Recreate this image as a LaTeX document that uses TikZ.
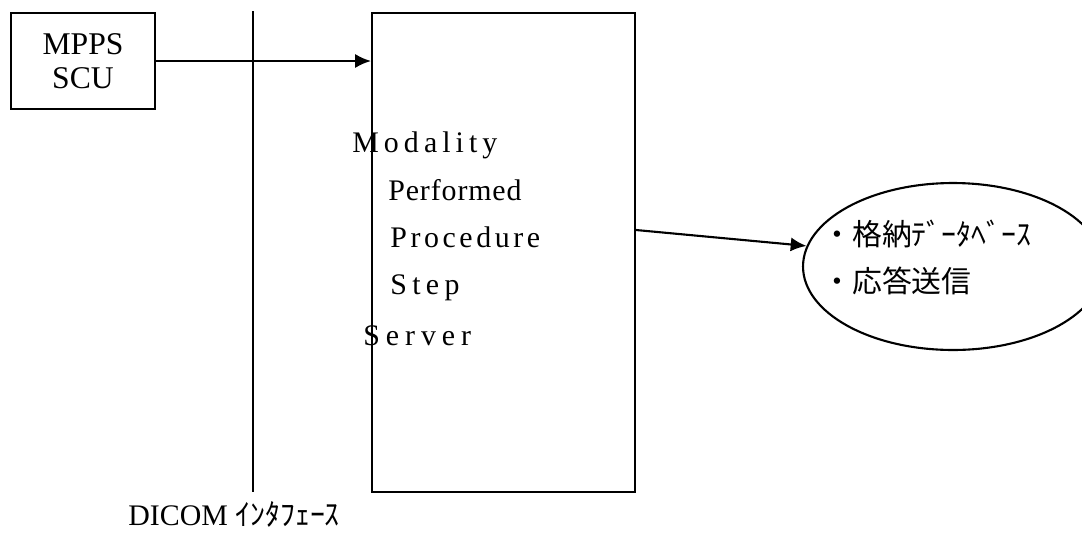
\documentclass[tikz,border=0pt]{standalone}
\usepackage{fontspec}
\setmainfont{Liberation Serif}
\newfontfamily\jpfont{Noto Sans CJK JP}
\usetikzlibrary{shapes.geometric,arrows.meta}

\newcommand{\tam}{\fontsize{17}{19.3}\selectfont}

\tikzset{
  caja/.style={draw, line width=1.2pt, inner sep=0pt},
  flecha/.style={line width=1.2pt, -{Latex[length=9pt,width=8pt]}},
  texto/.style={anchor=base west, inner sep=0pt},
  espaciado/.style={texto, font=\tam\addfontfeature{LetterSpace=#1}},
  japones/.style={texto, font=\jpfont\tam},
}

\begin{document}
\begin{tikzpicture}[x=0.02cm, y=-0.02cm, font=\tam]
  \clip (0,0) rectangle (1082,535);

  % Cajas
  \node[caja, minimum width=2.88cm, minimum height=1.92cm, align=center,
        font=\fontsize{18}{19.3}\selectfont] (scu) at (83,61) {MPPS\\SCU};
  \node[caja, minimum width=5.26cm, minimum height=9.58cm] (server) at (503.5,252.5) {};
  \node[caja, ellipse, minimum width=6cm, minimum height=3.34cm] (db) at (953,266.5) {};

  % Linea de la interfaz
  \coordinate (ifarriba) at (253,11);
  \coordinate (ifabajo) at (253,492);
  \draw[line width=1.2pt] (ifarriba) -- (ifabajo);
  \node[texto] (dicom) at (128,525) {DICOM {\jpfont ｲﾝﾀﾌｪｰｽ}};

  % Textos del servidor
  \node[espaciado=17] (modality) at (352,152) {Modality};
  \node[espaciado=3] (performed) at (388,200) {Performed};
  \node[espaciado=12] (procedure) at (390,247) {Procedure};
  \node[espaciado=18] (step) at (390,294) {Step};
  \node[espaciado=20] (serverlbl) at (363,345) {Server};

  % Textos de la elipse
  \node[japones] (guardar) at (822,245) {・格納ﾃﾞｰﾀﾍﾞｰｽ};
  \node[japones] (enviar) at (822,292) {・応答送信};

  % Flechas
  \draw[flecha] (scu.east) -- (scu.east -| server.west);
  \draw[flecha] ([yshift=0.45cm]server.east) -- (db.172);
\end{tikzpicture}
\end{document}
